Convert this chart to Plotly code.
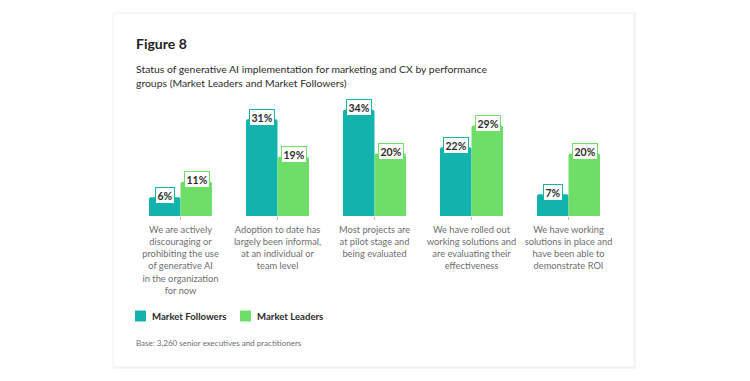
import plotly.graph_objects as go

categories = [
    "We are actively<br>discouraging or<br>prohibiting the use<br>of generative AI<br>in the organization<br>for now",
    "Adoption to date has<br>largely been informal,<br>at an individual or<br>team level",
    "Most projects are<br>at pilot stage and<br>being evaluated",
    "We have rolled out<br>working solutions and<br>are evaluating their<br>effectiveness",
    "We have working<br>solutions in place and<br>have been able to<br>demonstrate ROI",
]
followers = [6, 31, 34, 22, 7]
leaders = [11, 19, 20, 29, 20]
series_names = ["Market Followers", "Market Leaders"]

TEAL = "#12B3AD"
GREEN = "#6EDE69"
FONT = "Lato"
W, H = 750, 381
L, R, T, B = 132, 617, 91, 216  # plot area in px

def px(x):
    return (x - L) / (R - L)

def py(y):
    return (B - y) / (B - T)

fig = go.Figure()
for name, vals, col, og in [(series_names[0], followers, TEAL, "a"), (series_names[1], leaders, GREEN, "b")]:
    fig.add_trace(go.Bar(
        name=name, x=categories, y=vals, marker=dict(color=col, line=dict(width=0), cornerradius=2),
        offsetgroup=og, hoverinfo="skip", showlegend=False,
    ))

# value labels
ann = []
for i, cat in enumerate(categories):
    for vals, col, off in [(followers, TEAL, -16), (leaders, GREEN, 16)]:
        ann.append(dict(
            x=cat, y=vals[i], xref="x", yref="y", text=f"<b>{vals[i]}%</b>", showarrow=False,
            xshift=off, yshift=2, font=dict(family=FONT, size=10.5, color="#2c2c2c"),
            bgcolor="white", bordercolor=col, borderwidth=1, borderpad=1.5,
            xanchor="center", yanchor="middle",
        ))

ann.append(dict(x=px(134), y=py(43), xref="paper", yref="paper", text="<b>Figure 8</b>", showarrow=False,
                xanchor="left", yanchor="middle", font=dict(family=FONT, size=14, color="#222")))
ann.append(dict(x=px(134), y=py(76), xref="paper", yref="paper",
                text="Status of generative AI implementation for marketing and CX by performance<br>groups (Market Leaders and Market Followers)",
                showarrow=False, xanchor="left", yanchor="middle", align="left",
                font=dict(family=FONT, size=10.4, color="#2c2c2c")))
ann.append(dict(x=px(134), y=py(343), xref="paper", yref="paper", text="Base: 3,260 senior executives and practitioners",
                showarrow=False, xanchor="left", yanchor="middle", font=dict(family=FONT, size=8, color="#6e6e6e")))

shapes = [
    dict(type="rect", xref="paper", yref="paper", x0=px(113), x1=px(636), y0=py(13), y1=py(369),
         line=dict(width=0), fillcolor="#f4f4f4", layer="below"),
    dict(type="rect", xref="paper", yref="paper", x0=px(113), x1=px(634), y0=py(13), y1=py(367),
         line=dict(color="#f0f0f0", width=1), fillcolor="white", layer="below"),
]

# custom legend
leg = [(series_names[0], TEAL, 135), (series_names[1], GREEN, 240)]
for name, col, x0 in leg:
    shapes.append(dict(type="rect", xref="paper", yref="paper", x0=px(x0), x1=px(x0 + 11),
                       y0=py(321.5), y1=py(310.5), fillcolor=col, line=dict(width=0)))
    ann.append(dict(x=px(x0 + 15), y=py(316.5), xref="paper", yref="paper", text=f"<b>{name}</b>",
                    showarrow=False, xanchor="left", yanchor="middle",
                    font=dict(family=FONT, size=9.6, color="#2c2c2c")))

fig.update_layout(
    width=W, height=H, paper_bgcolor="white", plot_bgcolor="rgba(0,0,0,0)",
    margin=dict(l=L, r=W - R, t=T, b=H - B),
    barmode="group", bargap=0.35, bargroupgap=0.0,
    font=dict(family=FONT),
    showlegend=False,
    annotations=ann, shapes=shapes,
)
fig.update_xaxes(showgrid=False, showline=False, ticks="outside", ticklen=3, tickcolor="#bbb",
                 tickfont=dict(family=FONT, size=9.3, color="#6e6e6e"), ticklabelstandoff=2,
                 fixedrange=True)
fig.update_yaxes(range=[0, 40], visible=False, fixedrange=True)

fig.write_html("out.html", config={"displayModeBar": False},
               post_script="document.body.style.margin='0';document.body.style.overflow='hidden';")
